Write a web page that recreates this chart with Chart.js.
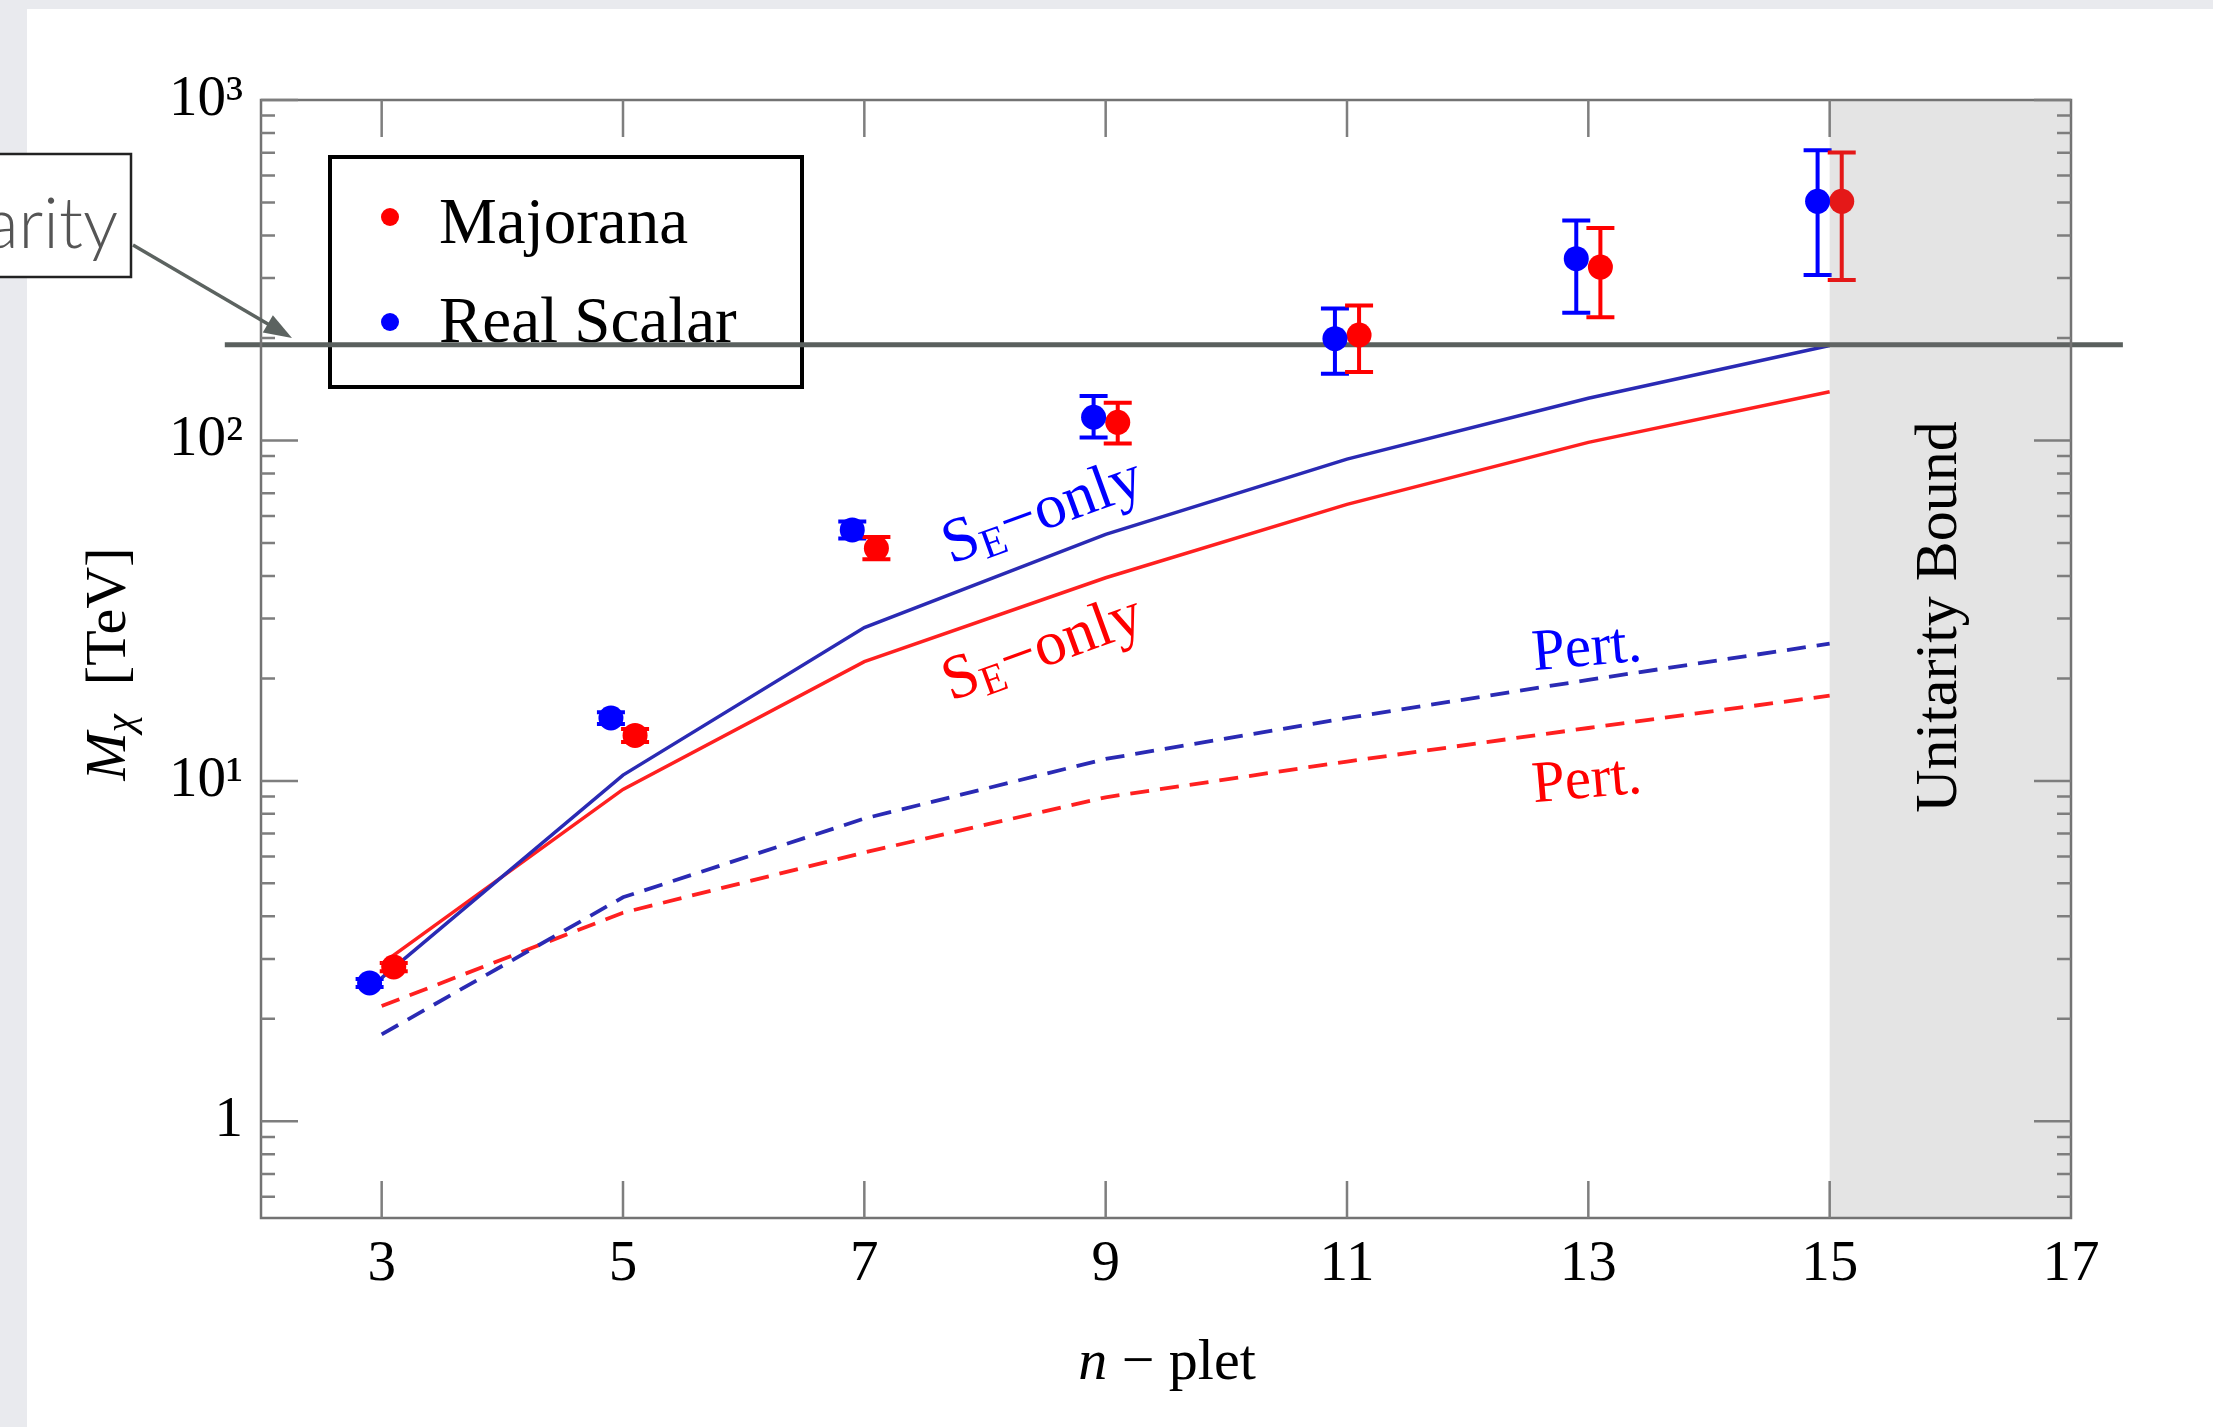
<!DOCTYPE html>
<html>
<head>
<meta charset="utf-8">
<script src="https://cdn.jsdelivr.net/npm/chart.js@4.4.0/dist/chart.umd.min.js"></script>
<style>
  html, body { margin: 0; padding: 0; background: #fff; }
  canvas { display: block; }
</style>
</head>
<body>
<canvas id="massChart" width="2213" height="1427"></canvas>
<script>
// n-plet values and horizontal offset of the two point series
const nValues = [3, 5, 7, 9, 11, 13, 15];
const pointOffset = 0.1;

// Majorana (red) points with error bars [TeV]
const majoranaMass = [2.84, 13.6, 48.2, 113, 204, 323, 504];
const majoranaLow  = [2.76, 13.0, 44.8, 98, 159, 230, 296];
const majoranaHigh = [2.92, 14.2, 52.0, 129, 249, 421, 701];

// Real scalar (blue) points with error bars [TeV]
const scalarMass = [2.55, 15.3, 54.6, 117, 199, 342, 504];
const scalarLow  = [2.48, 14.7, 51.5, 102, 157, 237, 306];
const scalarHigh = [2.62, 15.9, 57.8, 135, 244, 443, 712];

// S_E-only curves
const scalarSE   = [2.64, 10.4, 28.2, 53.0, 88.1, 133, 190];
const majoranaSE = [2.90, 9.44, 22.4, 39.5, 64.9, 98.7, 139];

// Pert. curves
const scalarPert   = [1.80, 4.55, 7.75, 11.6, 15.3, 19.8, 25.3];
const majoranaPert = [2.18, 4.10, 6.16, 8.95, 11.4, 14.3, 17.8];

// unitarity line and excluded region
const unitarityMass = 191;
const unitarityLineX = [1.7, 17.43];
const boundRegion = [15, 17];

const xTicks = [3, 5, 7, 9, 11, 13, 15, 17];
const yTicks = [1, 10, 100, 1000];
const yTickLabels = ["1", "10\u00b9", "10\u00b2", "10\u00b3"];

const BLUE = "#0000ff";
const RED = "#ff0000";
const BLUE_LINE = "#2a2ab4";
const RED_LINE = "#ff2020";
const SERIF = "'Liberation Serif', 'Times New Roman', serif";

function drawRuns(ctx, runs, cx, cy, angle, color) {
    ctx.save();
    ctx.translate(cx, cy);
    ctx.rotate(angle);
    ctx.fillStyle = color;
    ctx.textAlign = "left";
    ctx.textBaseline = "middle";
    let total = 0;
    runs.forEach(r => { ctx.font = r.font; r.w = ctx.measureText(r.text).width; total += r.w; });
    let x = -total / 2;
    runs.forEach(r => { ctx.font = r.font; ctx.fillText(r.text, x, r.dy || 0); x += r.w; });
    ctx.restore();
}

function drawErrorBars(ctx, chart, lows, highs, offset, color) {
    const xs = chart.scales.x, ys = chart.scales.y;
    ctx.save();
    ctx.strokeStyle = color;
    ctx.lineWidth = 4;
    nValues.forEach((n, i) => {
        const x = xs.getPixelForValue(n + offset);
        const y1 = ys.getPixelForValue(lows[i]);
        const y2 = ys.getPixelForValue(highs[i]);
        ctx.beginPath();
        ctx.moveTo(x, y1); ctx.lineTo(x, y2);
        ctx.moveTo(x - 14, y1); ctx.lineTo(x + 14, y1);
        ctx.moveTo(x - 14, y2); ctx.lineTo(x + 14, y2);
        ctx.stroke();
    });
    ctx.restore();
}

const decorPlugin = {
    id: "decor",
    beforeDraw(chart) {
        const ctx = chart.ctx;
        ctx.save();
        ctx.fillStyle = "#e9eaee";
        ctx.fillRect(0, 0, chart.width, chart.height);
        ctx.fillStyle = "#ffffff";
        ctx.fillRect(27, 9, chart.width, chart.height);
        ctx.restore();
    },
    beforeDatasetsDraw(chart) {
        const ctx = chart.ctx;
        drawErrorBars(ctx, chart, scalarLow, scalarHigh, -pointOffset, BLUE);
        drawErrorBars(ctx, chart, majoranaLow, majoranaHigh, pointOffset, RED);

        // legend box
        ctx.save();
        ctx.strokeStyle = "#000";
        ctx.lineWidth = 4;
        ctx.strokeRect(330, 157, 472, 230);
        ctx.fillStyle = RED;
        ctx.beginPath(); ctx.arc(390, 217, 9, 0, Math.PI * 2); ctx.fill();
        ctx.fillStyle = BLUE;
        ctx.beginPath(); ctx.arc(390, 322, 9, 0, Math.PI * 2); ctx.fill();
        ctx.fillStyle = "#000";
        ctx.font = "65px " + SERIF;
        ctx.textBaseline = "alphabetic";
        ctx.fillText(chart.data.datasets[1].label, 439, 243);
        ctx.fillText(chart.data.datasets[0].label, 439, 342);
        ctx.restore();
    },
    afterDatasetsDraw(chart) {
        const ctx = chart.ctx;
        const xs = chart.scales.x, ys = chart.scales.y;
        const a = chart.chartArea;

        // shaded unitarity bound region
        ctx.save();
        ctx.fillStyle = "rgba(118,118,118,0.2)";
        const gx0 = xs.getPixelForValue(boundRegion[0]);
        const gx1 = xs.getPixelForValue(boundRegion[1]);
        ctx.fillRect(gx0, a.top, gx1 - gx0, a.bottom - a.top);
        ctx.restore();

        // frame with inward ticks
        ctx.save();
        ctx.strokeStyle = "#737373";
        ctx.lineWidth = 2.5;
        ctx.strokeRect(a.left, a.top, a.right - a.left, a.bottom - a.top);
        ctx.strokeStyle = "#7e7e7e";
        ctx.lineWidth = 2.5;
        ctx.beginPath();
        xTicks.forEach(v => {
            if (v >= xs.max) return;
            const x = xs.getPixelForValue(v);
            ctx.moveTo(x, a.bottom); ctx.lineTo(x, a.bottom - 37);
            ctx.moveTo(x, a.top); ctx.lineTo(x, a.top + 37);
        });
        yTicks.forEach(v => {
            const y = ys.getPixelForValue(v);
            ctx.moveTo(a.left, y); ctx.lineTo(a.left + 37, y);
            ctx.moveTo(a.right, y); ctx.lineTo(a.right - 37, y);
        });
        for (let k = -1; k <= 2; k++) {
            for (let d = 2; d <= 9; d++) {
                const v = d * Math.pow(10, k);
                if (v <= ys.min || v >= ys.max) continue;
                const y = ys.getPixelForValue(v);
                ctx.moveTo(a.left, y); ctx.lineTo(a.left + 14, y);
                ctx.moveTo(a.right, y); ctx.lineTo(a.right - 14, y);
            }
        }
        ctx.stroke();
        ctx.restore();

        // curve labels
        const sRuns = [
            { text: "S", font: "63px " + SERIF },
            { text: "E", font: "42px " + SERIF, dy: 13 },
            { text: "\u2212only", font: "63px " + SERIF }
        ];
        drawRuns(ctx, sRuns, 1043, 513, -20 * Math.PI / 180, BLUE);
        drawRuns(ctx, sRuns, 1043, 650, -20 * Math.PI / 180, RED);
        const pRuns = [{ text: "Pert.", font: "59px " + SERIF }];
        drawRuns(ctx, pRuns, 1587, 650, -5 * Math.PI / 180, BLUE);
        drawRuns(ctx, pRuns, 1587, 782, -5 * Math.PI / 180, RED);
        drawRuns(ctx, [{ text: "Unitarity Bound", font: "60px " + SERIF }], 1940, 617, -Math.PI / 2, "#000");

        // axis titles
        drawRuns(ctx, [
            { text: "M", font: "italic 58px " + SERIF },
            { text: "\u03c7", font: "italic 41px " + SERIF, dy: 12 },
            { text: "\u2002[TeV]", font: "58px " + SERIF }
        ], 110, 664, -Math.PI / 2, "#000");
        drawRuns(ctx, [
            { text: "n", font: "italic 58px " + SERIF },
            { text: " \u2212 plet", font: "58px " + SERIF }
        ], 1167, 1364, 0, "#000");

        // "Unitarity" callout pointing at the line
        ctx.save();
        ctx.fillStyle = "#fff";
        ctx.fillRect(-5, 154, 136, 123);
        ctx.strokeStyle = "#222";
        ctx.lineWidth = 2.5;
        ctx.strokeRect(-5, 154, 136, 123);
        ctx.fillStyle = "#555";
        ctx.font = "300 70px Lato, 'Open Sans', sans-serif";
        ctx.textAlign = "right";
        ctx.textBaseline = "alphabetic";
        ctx.fillText("arity", 118, 248);
        const x0 = 133, y0 = 245, x1 = 292, y1 = 338;
        const ang = Math.atan2(y1 - y0, x1 - x0);
        ctx.strokeStyle = "#5c6360";
        ctx.fillStyle = "#5c6360";
        ctx.lineWidth = 3.5;
        ctx.beginPath();
        ctx.moveTo(x0, y0);
        ctx.lineTo(x1 - 20 * Math.cos(ang), y1 - 20 * Math.sin(ang));
        ctx.stroke();
        ctx.beginPath();
        ctx.moveTo(x1, y1);
        ctx.lineTo(x1 - 28 * Math.cos(ang) + 10 * Math.sin(ang), y1 - 28 * Math.sin(ang) - 10 * Math.cos(ang));
        ctx.lineTo(x1 - 28 * Math.cos(ang) - 10 * Math.sin(ang), y1 - 28 * Math.sin(ang) + 10 * Math.cos(ang));
        ctx.closePath();
        ctx.fill();
        ctx.restore();
    }
};

const toPoints = (xsArr, ysArr, off) => xsArr.map((n, i) => ({ x: n + off, y: ysArr[i] }));

const ctx = document.getElementById("massChart").getContext("2d");
new Chart(ctx, {
    type: "line",
    data: {
        datasets: [
            {
                label: "Real Scalar",
                data: toPoints(nValues, scalarMass, -pointOffset),
                showLine: false,
                pointRadius: 12.5,
                pointBackgroundColor: BLUE,
                pointBorderWidth: 0
            },
            {
                label: "Majorana",
                data: toPoints(nValues, majoranaMass, pointOffset),
                showLine: false,
                pointRadius: 12.5,
                pointBackgroundColor: RED,
                pointBorderWidth: 0
            },
            {
                label: "Unitarity",
                data: unitarityLineX.map(x => ({ x: x, y: unitarityMass })),
                borderColor: "#5a605e",
                borderWidth: 5,
                pointRadius: 0,
                clip: false
            },
            {
                label: "Real Scalar S_E-only",
                data: toPoints(nValues, scalarSE, 0),
                borderColor: BLUE_LINE,
                borderWidth: 3.5,
                pointRadius: 0,
                tension: 0
            },
            {
                label: "Majorana S_E-only",
                data: toPoints(nValues, majoranaSE, 0),
                borderColor: RED_LINE,
                borderWidth: 3.5,
                pointRadius: 0,
                tension: 0
            },
            {
                label: "Real Scalar Pert.",
                data: toPoints(nValues, scalarPert, 0),
                borderColor: BLUE_LINE,
                borderWidth: 3.8,
                borderDash: [19, 11],
                pointRadius: 0,
                tension: 0
            },
            {
                label: "Majorana Pert.",
                data: toPoints(nValues, majoranaPert, 0),
                borderColor: RED_LINE,
                borderWidth: 3.8,
                borderDash: [19, 11],
                pointRadius: 0,
                tension: 0
            }
        ]
    },
    options: {
        responsive: false,
        devicePixelRatio: 1,
        animation: false,
        layout: { padding: { top: 100, right: 142, left: 0, bottom: 0 } },
        plugins: {
            legend: { display: false },
            tooltip: { enabled: false }
        },
        scales: {
            x: {
                type: "linear",
                min: 2,
                max: 17,
                afterBuildTicks: axis => { axis.ticks = xTicks.map(v => ({ value: v })); },
                afterFit: axis => { axis.height = 209; },
                grid: { display: false, drawTicks: false },
                border: { display: false },
                ticks: {
                    autoSkip: false,
                    maxRotation: 0,
                    padding: 13,
                    color: "#000",
                    font: { family: SERIF, size: 57 },
                    callback: (value, index) => String(xTicks[index])
                }
            },
            y: {
                type: "logarithmic",
                min: 0.52,
                max: 1000,
                afterBuildTicks: axis => { axis.ticks = yTicks.map(v => ({ value: v })); },
                afterFit: axis => { axis.width = 261; },
                grid: { display: false, drawTicks: false },
                border: { display: false },
                ticks: {
                    autoSkip: false,
                    padding: 18,
                    color: "#000",
                    font: { family: SERIF, size: 57 },
                    callback: (value, index) => yTickLabels[index]
                }
            }
        }
    },
    plugins: [decorPlugin]
});
</script>
</body>
</html>
